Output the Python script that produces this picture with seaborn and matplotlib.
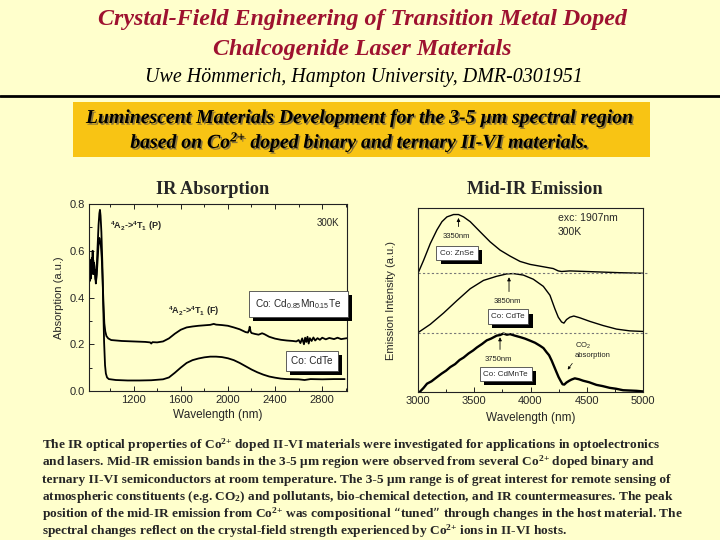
import matplotlib
matplotlib.use('Agg')
import matplotlib.pyplot as plt
import matplotlib.patheffects as pe
from matplotlib.lines import Line2D
from matplotlib.patches import Rectangle
import seaborn as sns
import pandas as pd

# ---------------- data ----------------
abs_wl_cdmnte = [822, 830, 836, 842, 848, 853, 858, 864, 870, 876, 882, 888, 895, 902, 910, 917, 923, 930,
                 938, 945, 952, 960, 970, 985, 1010, 1100, 1200, 1300, 1340, 1350, 1360, 1400, 1450, 1500,
                 1550, 1600, 1650, 1700, 1750, 1800, 1850, 1880, 1900, 1950, 2000, 2050, 2100, 2150, 2170,
                 2180, 2185, 2192, 2200, 2230, 2260, 2290, 2310, 2350, 2400, 2450, 2500, 2550, 2580, 2600,
                 2615, 2630, 2645, 2655, 2665, 2675, 2685, 2695, 2710, 2725, 2740, 2760, 2780, 2800, 2830,
                 2860, 2900, 2930, 2960, 3010]
abs_cdmnte = [0.50, 0.55, 0.48, 0.56, 0.52, 0.60, 0.50, 0.55, 0.53, 0.48, 0.47, 0.50, 0.56, 0.62, 0.655,
              0.64, 0.62, 0.57, 0.47, 0.37, 0.29, 0.255, 0.235, 0.225, 0.218, 0.214, 0.212, 0.210, 0.208,
              0.203, 0.209, 0.208, 0.212, 0.225, 0.245, 0.262, 0.272, 0.276, 0.279, 0.281, 0.283, 0.287,
              0.284, 0.282, 0.279, 0.272, 0.264, 0.252, 0.250, 0.262, 0.275, 0.255, 0.248, 0.244, 0.241,
              0.247, 0.243, 0.232, 0.224, 0.219, 0.216, 0.214, 0.212, 0.218, 0.205, 0.225, 0.200, 0.228,
              0.210, 0.232, 0.203, 0.226, 0.214, 0.229, 0.216, 0.226, 0.219, 0.228, 0.221, 0.227, 0.222,
              0.228, 0.222, 0.226]

abs_wl_cdte = [822, 828, 834, 840, 846, 852, 858, 865, 872, 880, 887, 895, 903, 910, 915, 920, 927, 935,
               942, 950, 958, 965, 975, 990, 1050, 1150, 1250, 1350, 1450, 1500, 1550, 1600, 1650, 1700,
               1750, 1800, 1850, 1900, 1950, 2000, 2050, 2100, 2150, 2200, 2250, 2300, 2350, 2400, 2450,
               2500, 2600, 2650, 2700, 2800, 2900, 2990]
abs_cdte = [0.53, 0.47, 0.56, 0.50, 0.57, 0.52, 0.56, 0.50, 0.52, 0.46, 0.52, 0.62, 0.71, 0.76, 0.775,
            0.75, 0.68, 0.55, 0.38, 0.21, 0.11, 0.075, 0.058, 0.051, 0.047, 0.045, 0.045, 0.046, 0.050,
            0.058, 0.078, 0.100, 0.120, 0.132, 0.139, 0.144, 0.147, 0.147, 0.145, 0.140, 0.132, 0.120,
            0.106, 0.092, 0.080, 0.070, 0.062, 0.057, 0.053, 0.051, 0.050, 0.047, 0.051, 0.050, 0.051,
            0.051]

em_wl_znse = [3000, 3050, 3109, 3168, 3213, 3257, 3316, 3360, 3405, 3464, 3552, 3641, 3730, 3818, 3907,
              3996, 4114, 4202, 4247, 4276, 4350, 4498, 4645, 4793, 5000]
em_znse = [2.00, 2.22, 2.50, 2.73, 2.87, 2.95, 2.99, 2.99, 2.95, 2.87, 2.70, 2.53, 2.39, 2.29, 2.20,
           2.15, 2.11, 2.08, 2.04, 2.03, 2.04, 2.03, 2.02, 2.01, 2.00]

em_wl_cdte = [3000, 3109, 3227, 3346, 3464, 3582, 3700, 3789, 3848, 3936, 4025, 4114, 4173, 4217, 4247,
              4276, 4297, 4320, 4350, 4385, 4439, 4527, 4645, 4764, 4882, 5000]
em_cdte = [1.00, 1.14, 1.33, 1.54, 1.74, 1.88, 1.95, 1.99, 1.995, 1.97, 1.90, 1.78, 1.63, 1.40, 1.26,
           1.18, 1.16, 1.22, 1.26, 1.28, 1.25, 1.19, 1.12, 1.06, 1.03, 1.02]

em_wl_cdmnte = [3015, 3050, 3080, 3120, 3168, 3210, 3250, 3287, 3330, 3370, 3405, 3450, 3490, 3523, 3570,
                3611, 3650, 3700, 3730, 3759, 3790, 3818, 3860, 3907, 3950, 3996, 4040, 4084, 4115, 4143,
                4165, 4188, 4210, 4232, 4250, 4267, 4285, 4300, 4320, 4345, 4365, 4394, 4430, 4468, 4520,
                4586, 4640, 4704, 4760, 4823, 4880, 4941, 5000]
em_cdmnte = [0.00, 0.07, 0.14, 0.18, 0.25, 0.31, 0.36, 0.42, 0.47, 0.54, 0.58, 0.65, 0.70, 0.75, 0.81,
             0.87, 0.90, 0.95, 0.96, 0.985, 0.965, 0.975, 0.95, 0.925, 0.90, 0.865, 0.83, 0.78, 0.74, 0.67,
             0.62, 0.53, 0.43, 0.33, 0.25, 0.19, 0.13, 0.125, 0.16, 0.19, 0.21, 0.23, 0.215, 0.19, 0.165,
             0.12, 0.10, 0.07, 0.055, 0.03, 0.025, 0.02, 0.01]

em_baselines = [1.0, 2.0]
em_peak_labels = ['3350nm', '3850nm', '3750nm']
em_peak_wl = [3360, 3809, 3729]
em_peak_top = [2.98, 1.98, 0.97]
em_sample_labels = ['Co: ZnSe', 'Co: CdTe', 'Co: CdMnTe']

abs_xticks = [1200, 1600, 2000, 2400, 2800]
abs_yticks = [0.0, 0.2, 0.4, 0.6, 0.8]
em_xticks = [3000, 3500, 4000, 4500, 5000]

# ---------------- style ----------------
BG = '#FFFFCC'
GOLD = '#F8C414'
RED = '#9E1230'
sns.set_theme(style='ticks')
plt.rcParams['font.family'] = ['Liberation Sans', 'DejaVu Sans']
plt.rcParams['mathtext.default'] = 'regular'
plt.rcParams['axes.linewidth'] = 0.8

fig = plt.figure(figsize=(7.2, 5.4), dpi=100, facecolor=BG)


def fx(x):
    return x / 720.0


def fy(y):
    return 1 - y / 540.0


SERIF = ['Liberation Serif', 'DejaVu Serif']

# header
fig.text(fx(362), fy(19), 'Crystal-Field Engineering of Transition Metal Doped', ha='center', va='center',
         family=SERIF, style='italic', weight='bold', size=17.3, color=RED)
fig.text(fx(362), fy(50), 'Chalcogenide Laser Materials', ha='center', va='center',
         family=SERIF, style='italic', weight='bold', size=17.3, color=RED)
fig.text(fx(364), fy(78), 'Uwe Hömmerich, Hampton University, DMR-0301951', ha='center', va='center',
         family=SERIF, style='italic', size=14.4, color='black')
fig.add_artist(Line2D([0, 1], [fy(96), fy(96)], transform=fig.transFigure, color='black', lw=2))
fig.add_artist(Rectangle((fx(73), fy(157)), fx(650 - 73), (157 - 102) / 540.0, transform=fig.transFigure,
                         facecolor=GOLD, edgecolor='none'))
shadow = [pe.withSimplePatchShadow(offset=(1.2, -1.2), shadow_rgbFace='#7a6a40', alpha=0.9)]
fig.text(fx(360), fy(118), 'Luminescent Materials Development for the 3-5 µm spectral region', ha='center',
         va='center', family=SERIF, style='italic', weight='bold', size=14.2, color='black', path_effects=shadow)
fig.text(fx(360), fy(142), 'based on Co$^{2{+}}$ doped binary and ternary II-VI materials.', ha='center',
         va='center', family=SERIF, style='italic', weight='bold', size=14.2, color='black', path_effects=shadow)

fig.text(fx(213), fy(189), 'IR Absorption', ha='center', va='center', family=SERIF, weight='bold', size=13.2)
fig.text(fx(535), fy(189), 'Mid-IR Emission', ha='center', va='center', family=SERIF, weight='bold', size=13.2)

para = [
    'The IR optical properties of Co$^{2{+}}$ doped II-VI materials were investigated for applications in optoelectronics',
    'and lasers. Mid-IR emission bands in the 3-5 µm region were observed from several Co$^{2{+}}$ doped binary and',
    'ternary II-VI semiconductors at room temperature. The 3-5 µm range is of great interest for remote sensing of',
    'atmospheric constituents (e.g. CO$_2$) and pollutants, bio-chemical detection, and IR countermeasures. The peak',
    'position of the mid-IR emission from Co$^{2{+}}$ was compositional \u201ctuned\u201d through changes in the host material. The',
    'spectral changes reflect on the crystal-field strength experienced by Co$^{2{+}}$ ions in II-VI hosts.',
]
for i, line in enumerate(para):
    fig.text(fx(42), fy(445 + 17.3 * i), line, ha='left', va='center', family=SERIF, weight='bold', size=9.6)

# ---------------- axes ----------------
ax1 = fig.add_axes([fx(89), fy(391), fx(347 - 89), (391 - 204) / 540.0])
ax2 = fig.add_axes([fx(418), fy(392), fx(643 - 418), (392 - 208) / 540.0])
for ax in (ax1, ax2):
    ax.set_facecolor(BG)
    for s in ax.spines.values():
        s.set_color('#222222')
        s.set_linewidth(0.8)

df_a1 = pd.DataFrame({'wl': abs_wl_cdmnte, 'a': abs_cdmnte})
df_a2 = pd.DataFrame({'wl': abs_wl_cdte, 'a': abs_cdte})
sns.lineplot(data=df_a1, x='wl', y='a', ax=ax1, color='black', lw=1.3, estimator=None, sort=False)
sns.lineplot(data=df_a2, x='wl', y='a', ax=ax1, color='black', lw=1.3, estimator=None, sort=False)
ax1.set_xlim(822, 3010)
ax1.set_ylim(0, 0.8)
ax1.set_xticks(abs_xticks)
ax1.set_xticks([1000, 1400, 1800, 2200, 2600, 3000], minor=True)
ax1.set_yticks(abs_yticks)
ax1.set_yticks([0.1, 0.3, 0.5, 0.7], minor=True)
ax1.set_yticklabels([f'{v:.1f}' for v in abs_yticks])
ax1.tick_params(which='both', direction='in', top=True, labelsize=8, pad=3, width=0.7, color='#222222')
ax1.tick_params(which='major', length=3.5)
ax1.tick_params(which='minor', length=2)
ax1.set_xlabel('Wavelength (nm)', size=8.5, labelpad=3)
ax1.set_ylabel('Absorption (a.u.)', size=8, labelpad=4)

ax1.text(996, 0.706, '$^4$A$_2$->$^4$T$_1$ (P)', weight='bold', size=6.5, ha='left', va='center')
ax1.text(1492, 0.342, '$^4$A$_2$->$^4$T$_1$ (F)', weight='bold', size=6.5, ha='left', va='center')
ax1.text(2755, 0.72, '300K', size=7, ha='left', va='center')

box_shadow = [pe.withSimplePatchShadow(offset=(3, -3), shadow_rgbFace='black', alpha=1.0)]


def boxed(ax, x, y, s, size, pad=0.45):
    t = ax.text(x, y, s, ha='center', va='center', size=size,
                bbox=dict(boxstyle=f'square,pad={pad}', fc='white', ec='#444444', lw=0.6))
    t.get_bbox_patch().set_path_effects(box_shadow)
    return t


boxed(ax1, 2598, 0.372, 'Co: Cd$_{0.85}$Mn$_{0.15}$Te', 7.2, pad=0.6)
boxed(ax1, 2712, 0.13, 'Co: CdTe', 7.2, pad=0.5)

df_e1 = pd.DataFrame({'wl': em_wl_znse, 'i': em_znse})
df_e2 = pd.DataFrame({'wl': em_wl_cdte, 'i': em_cdte})
df_e3 = pd.DataFrame({'wl': em_wl_cdmnte, 'i': em_cdmnte})
sns.lineplot(data=df_e1, x='wl', y='i', ax=ax2, color='black', lw=1.0, estimator=None, sort=False)
sns.lineplot(data=df_e2, x='wl', y='i', ax=ax2, color='black', lw=1.0, estimator=None, sort=False)
sns.lineplot(data=df_e3, x='wl', y='i', ax=ax2, color='black', lw=1.7, estimator=None, sort=False)
for b in em_baselines:
    ax2.axhline(b, xmin=0, xmax=1.025, color='#777777', lw=0.8, ls=(0, (2, 2)), clip_on=False)
ax2.set_xlim(3000, 5000)
ax2.set_ylim(0, 3.1)
ax2.set_xticks(em_xticks)
ax2.set_xticks([3250, 3750, 4250, 4750], minor=True)
ax2.set_yticks([])
ax2.tick_params(which='both', direction='in', labelsize=8, pad=3, width=0.7, color='#222222')
ax2.tick_params(which='major', length=3.5)
ax2.tick_params(which='minor', length=2)
ax2.set_xlabel('Wavelength (nm)', size=8.5, labelpad=4)
ax2.set_ylabel('Emission Intensity (a.u.)', size=8, labelpad=16)

ax2.text(4244, 2.93, 'exc: 1907nm', size=7.5, ha='left', va='center')
ax2.text(4244, 2.69, '300K', size=7.5, ha='left', va='center')

label_y = [2.62, 1.525, 0.55]
box_x = [3347, 3800, 3780]
box_y = [2.34, 1.27, 0.30]
for lab, wl, top, ly, s, bx, by in zip(em_peak_labels, em_peak_wl, em_peak_top, label_y,
                                       em_sample_labels, box_x, box_y):
    ax2.annotate('', xy=(wl, top), xytext=(wl, ly + 0.12),
                 arrowprops=dict(arrowstyle='-|>', color='black', lw=0.6, mutation_scale=5))
    ax2.text(wl - 15, ly, lab, size=5.5, ha='center', va='center', color='#222222')
    boxed(ax2, bx, by, s, 5.8, pad=0.45)

ax2.text(4395, 0.78, 'CO$_2$', size=5.5, ha='left', va='center', color='#222222')
ax2.text(4395, 0.61, 'absorption', size=5.5, ha='left', va='center', color='#222222')
ax2.annotate('', xy=(4316, 0.34), xytext=(4386, 0.52),
             arrowprops=dict(arrowstyle='-|>', color='black', lw=0.5, mutation_scale=4))

fig.savefig('out.png', dpi=100, facecolor=BG)
